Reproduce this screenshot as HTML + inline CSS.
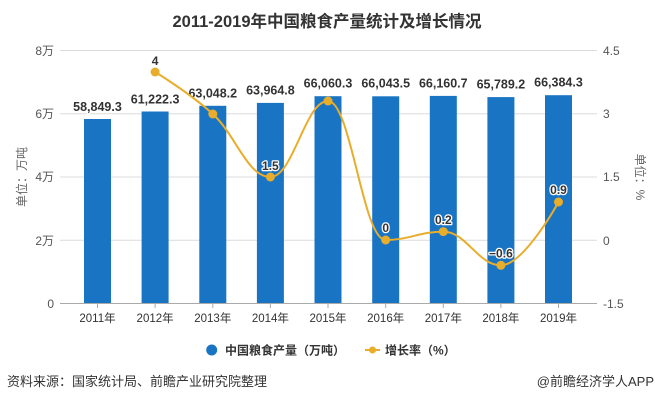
<!DOCTYPE html>
<html><head><meta charset="utf-8"><style>
html,body{margin:0;padding:0;background:#fff;}
svg{display:block;}
text{font-family:"Liberation Sans","Noto Sans CJK SC",sans-serif;}
</style></head><body>
<svg width="655" height="402" viewBox="0 0 655 402" xmlns="http://www.w3.org/2000/svg">
<rect width="655" height="402" fill="#fff"/>
<text x="327" y="27" text-anchor="middle" font-size="16.5" font-weight="bold" fill="#333">2011-2019年中国粮食产量统计及增长情况</text>
<!-- gridlines -->
<g stroke="#dcdcdc" stroke-width="1">
<line x1="60" y1="50.5" x2="597" y2="50.5"/>
<line x1="60" y1="113.8" x2="597" y2="113.8"/>
<line x1="60" y1="177" x2="597" y2="177"/>
<line x1="60" y1="240.3" x2="597" y2="240.3"/>
</g>
<!-- bars -->
<g fill="#1a74c4">
<rect x="84" y="119" width="27" height="185"/>
<rect x="141.6" y="111.5" width="27" height="192.5"/>
<rect x="199.3" y="105.8" width="27" height="198.2"/>
<rect x="256.9" y="102.9" width="27" height="201.1"/>
<rect x="314.5" y="96.2" width="27" height="207.8"/>
<rect x="372.2" y="96.3" width="27" height="207.7"/>
<rect x="429.8" y="95.9" width="27" height="208.1"/>
<rect x="487.4" y="97.1" width="27" height="206.9"/>
<rect x="545" y="95.2" width="27" height="208.8"/>
</g>
<!-- x axis -->
<line x1="60" y1="303.5" x2="597" y2="303.5" stroke="#aaa" stroke-width="1"/>
<g stroke="#aaa" stroke-width="1">
<line x1="97.5" y1="303.5" x2="97.5" y2="308"/>
<line x1="155.1" y1="303.5" x2="155.1" y2="308"/>
<line x1="212.8" y1="303.5" x2="212.8" y2="308"/>
<line x1="270.4" y1="303.5" x2="270.4" y2="308"/>
<line x1="328" y1="303.5" x2="328" y2="308"/>
<line x1="385.7" y1="303.5" x2="385.7" y2="308"/>
<line x1="443.3" y1="303.5" x2="443.3" y2="308"/>
<line x1="500.9" y1="303.5" x2="500.9" y2="308"/>
<line x1="558.5" y1="303.5" x2="558.5" y2="308"/>
</g>
<g font-size="11.5" fill="#333" text-anchor="middle">
<text x="97.5" y="322">2011年</text>
<text x="155.1" y="322">2012年</text>
<text x="212.8" y="322">2013年</text>
<text x="270.4" y="322">2014年</text>
<text x="328" y="322">2015年</text>
<text x="385.7" y="322">2016年</text>
<text x="443.3" y="322">2017年</text>
<text x="500.9" y="322">2018年</text>
<text x="558.5" y="322">2019年</text>
</g>
<!-- left axis labels -->
<g font-size="12" fill="#555" text-anchor="end">
<text x="54" y="55">8万</text>
<text x="54" y="118">6万</text>
<text x="54" y="181">4万</text>
<text x="54" y="245">2万</text>
<text x="54" y="308">0</text>
</g>
<g font-size="12" fill="#555" text-anchor="start">
<text x="603" y="55">4.5</text>
<text x="603" y="118">3</text>
<text x="603" y="181">1.5</text>
<text x="603" y="245">0</text>
<text x="603" y="308">-1.5</text>
</g>
<text transform="translate(26,177) rotate(-90)" font-size="12" fill="#666" text-anchor="middle">单位：万吨</text>
<text transform="translate(636,177) rotate(90)" font-size="12" fill="#666" text-anchor="middle">单位：%</text>
<!-- bar labels -->
<g font-size="12.5" font-weight="bold" fill="#333" text-anchor="middle" stroke="#fff" stroke-width="2.5" paint-order="stroke" stroke-linejoin="round">
<text x="97.5" y="111">58,849.3</text>
<text x="155.1" y="103.5">61,222.3</text>
<text x="212.8" y="97.5">63,048.2</text>
<text x="270.4" y="94.5">63,964.8</text>
<text x="328" y="87.5">66,060.3</text>
<text x="385.7" y="87.5">66,043.5</text>
<text x="443.3" y="87.3">66,160.7</text>
<text x="500.9" y="88.5">65,789.2</text>
<text x="558.5" y="86.7">66,384.3</text>
</g>
<!-- line -->
<path d="M155.1,72 C155.1,72 189.75,93 212.8,114 C235.85,135 247.35,177 270.4,177 C293.45,177 304.95,101 328,101 C351.05,101 362.65,240 385.7,240 C408.75,240 420.25,231.6 443.3,231.6 C466.35,231.6 477.85,265.3 500.9,265.3 C523.95,265.3 558.5,202 558.5,202" fill="none" stroke="#e9ad2c" stroke-width="2"/>
<g fill="#e9ad2c">
<circle cx="155.1" cy="72" r="4.5"/>
<circle cx="212.8" cy="114" r="4.5"/>
<circle cx="270.4" cy="177" r="4.5"/>
<circle cx="328" cy="101" r="4.5"/>
<circle cx="385.7" cy="240" r="4.5"/>
<circle cx="443.3" cy="231.6" r="4.5"/>
<circle cx="500.9" cy="265.3" r="4.5"/>
<circle cx="558.5" cy="202" r="4.5"/>
</g>
<g font-size="12" font-weight="bold" fill="#333" text-anchor="middle" stroke="#fff" stroke-width="2.5" paint-order="stroke" stroke-linejoin="round">
<text x="155.1" y="65">4</text>
<text x="270.4" y="170">1.5</text>
<text x="385.7" y="232">0</text>
<text x="443.3" y="224">0.2</text>
<text x="500.9" y="257.5">−0.6</text>
<text x="558.5" y="194">0.9</text>
</g>
<!-- legend -->
<circle cx="211.7" cy="350" r="5.5" fill="#1a74c4"/>
<text x="225" y="354.5" font-size="12" font-weight="bold" fill="#333">中国粮食产量（万吨）</text>
<line x1="365" y1="350" x2="380" y2="350" stroke="#e9ad2c" stroke-width="2"/>
<circle cx="372.5" cy="350" r="3.5" fill="#e9ad2c"/>
<text x="385" y="354.5" font-size="12" font-weight="bold" fill="#333">增长率（%）</text>
<!-- footer -->
<text x="7" y="386" font-size="13" fill="#333">资料来源：国家统计局、前瞻产业研究院整理</text>
<text x="654" y="386" font-size="13" fill="#333" text-anchor="end">@前瞻经济学人APP</text>
</svg>
</body></html>
